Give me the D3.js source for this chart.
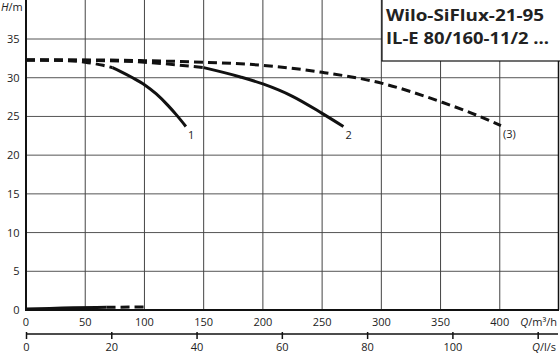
<!DOCTYPE html>
<html><head><meta charset="utf-8">
<script src="https://cdn.jsdelivr.net/npm/d3@7"></script>
<style>
html,body{margin:0;padding:0;background:#fff;}
svg{display:block;}
text{font-family:"Open Sans","Noto Sans",sans-serif;fill:#222;}
</style></head>
<body>
<script>
// ---- data ----
const qTicks = [0, 50, 100, 150, 200, 250, 300, 350, 400];
const hTicks = [0, 5, 10, 15, 20, 25, 30, 35];
const lsTicks = [0, 20, 40, 60, 80, 100, 120];
const lsLabels = ["0", "20", "40", "60", "80", "100", ""];
const titleLines = ["Wilo-SiFlux-21-95", "IL-E 80/160-11/2 ..."];
const titleWidths = [158, 163];

// curve 1
const c1DashQ = [0, 25, 50, 65, 73];
const c1DashH = [32.3, 32.25, 32.0, 31.6, 31.3];
const c1SolidQ = [73, 80, 90, 100, 110, 120, 127, 135];
const c1SolidH = [31.3, 30.8, 30.0, 29.1, 27.9, 26.4, 25.2, 23.7];
// curve 2
const c2DashQ = [0, 50, 100, 150];
const c2DashH = [32.3, 32.25, 32.0, 31.3];
const c2SolidQ = [150, 181, 200, 225, 250, 268];
const c2SolidH = [31.3, 30.1, 29.2, 27.6, 25.4, 23.7];
// curve (3)
const c3Q = [0, 50, 100, 150, 200, 250, 300, 325, 350, 375, 401];
const c3H = [32.3, 32.3, 32.2, 32.0, 31.6, 30.7, 29.3, 28.2, 26.9, 25.5, 23.8];
// low curve near H=0
const lowSolidQ = [0, 20, 40, 68];
const lowSolidH = [0.12, 0.2, 0.28, 0.35];
const lowDashQ = [68, 100];
const lowDashH = [0.35, 0.4];

const curveLabels = [
  {text: "1", q: 135, h: 23.7},
  {text: "2", q: 268, h: 23.7},
  {text: "(3)", q: 401, h: 23.8}
];

// ---- layout ----
const W = 560, H = 355;
const svg = d3.select("body").append("svg").attr("width", W).attr("height", H);

const x = d3.scaleLinear().domain([0, 450]).range([26, 559]);
const y = d3.scaleLinear().domain([0, 40]).range([310, 0.3]);
const xls = d3.scaleLinear().domain([0, 450 / 3.6]).range([26, 559]);

// grid
svg.append("g").selectAll("line").data(hTicks.filter(d => d > 0)).join("line")
  .attr("x1", x(0)).attr("x2", 558.5).attr("y1", d => y(d)).attr("y2", d => y(d))
  .attr("stroke", "#555").attr("stroke-width", 1);
svg.append("g").selectAll("line").data(qTicks.filter(d => d > 0)).join("line")
  .attr("x1", d => x(d)).attr("x2", d => x(d)).attr("y1", 0).attr("y2", y(0))
  .attr("stroke", "#444").attr("stroke-width", 1);

// frame
svg.append("line").attr("x1", 558.5).attr("x2", 558.5).attr("y1", 0).attr("y2", y(0))
  .attr("stroke", "#111").attr("stroke-width", 1.5);
svg.append("line").attr("x1", x(0)).attr("x2", x(0)).attr("y1", 0).attr("y2", y(0) + 1)
  .attr("stroke", "#111").attr("stroke-width", 2);
svg.append("line").attr("x1", x(0) - 1).attr("x2", 559).attr("y1", y(0)).attr("y2", y(0))
  .attr("stroke", "#111").attr("stroke-width", 2);

// curves
const line = d3.line().x(d => x(d[0])).y(d => y(d[1])).curve(d3.curveMonotoneX);
function draw(qs, hs, dashed, w) {
  svg.append("path").attr("d", line(qs.map((q, i) => [q, hs[i]])))
    .attr("fill", "none").attr("stroke", "#111").attr("stroke-width", w || 3)
    .attr("stroke-dasharray", dashed ? "9,5" : null);
}
draw(c3Q, c3H, true);
draw(c2DashQ, c2DashH, true);
draw(c2SolidQ, c2SolidH, false);
draw(c1DashQ, c1DashH, true);
draw(c1SolidQ, c1SolidH, false);
draw(lowDashQ, lowDashH, true, 3);
draw(lowSolidQ, lowSolidH, false, 3);

// curve labels
svg.append("g").selectAll("text").data(curveLabels).join("text")
  .attr("x", d => x(d.q) + 2).attr("y", d => y(d.h) + 12)
  .attr("font-size", 11).text(d => d.text);

// y axis labels
svg.append("g").selectAll("text").data(hTicks).join("text")
  .attr("x", 19.5).attr("y", d => y(d) + 4).attr("text-anchor", "end")
  .attr("font-size", 11).text(d => d);
const hl = svg.append("text").attr("x", 1).attr("y", 11).attr("font-size", 11);
hl.append("tspan").attr("font-style", "italic").text("H");
hl.append("tspan").text("/m");

// x axis labels (m3/h)
svg.append("g").selectAll("text").data(qTicks).join("text")
  .attr("x", d => x(d)).attr("y", 326).attr("text-anchor", "middle")
  .attr("font-size", 11).text(d => d);
const ql = svg.append("text").attr("x", 557).attr("y", 326).attr("text-anchor", "end").attr("font-size", 11);
ql.append("tspan").attr("font-style", "italic").text("Q");
ql.append("tspan").text("/m³/h");

// second axis (l/s)
const axLs = d3.axisBottom(xls).tickValues(lsTicks).tickSize(5).tickFormat((d, i) => lsLabels[i]);
const gls = svg.append("g").attr("transform", "translate(0,334)").call(axLs);
gls.select(".domain").attr("d", `M${xls(0)},0H558`).attr("stroke", "#111").attr("stroke-width", 1.5);
gls.selectAll(".tick line").attr("stroke", "#111").attr("stroke-width", 1.5).attr("y1", -2);
gls.selectAll(".tick text").attr("font-size", 11).attr("font-family", "'Open Sans','Noto Sans',sans-serif")
  .attr("fill", "#222").attr("y", 9).attr("dy", "0.71em");
const ll = svg.append("text").attr("x", 556).attr("y", 351).attr("text-anchor", "end").attr("font-size", 11);
ll.append("tspan").attr("font-style", "italic").text("Q");
ll.append("tspan").text("/l/s");

// title box
svg.append("rect").attr("x", 382).attr("y", -1).attr("width", 180).attr("height", 62)
  .attr("fill", "#fff").attr("stroke", "#111").attr("stroke-width", 1.2);
svg.append("g").selectAll("text").data(titleLines).join("text")
  .attr("x", 386).attr("y", (d, i) => 21 + i * 22.5)
  .attr("font-size", 16).attr("font-weight", 700)
  .attr("textLength", (d, i) => titleWidths[i]).attr("lengthAdjust", "spacingAndGlyphs")
  .attr("font-family", "'Open Sans','Noto Sans',sans-serif").attr("fill", "#111")
  .text(d => d);
</script>
</body></html>
